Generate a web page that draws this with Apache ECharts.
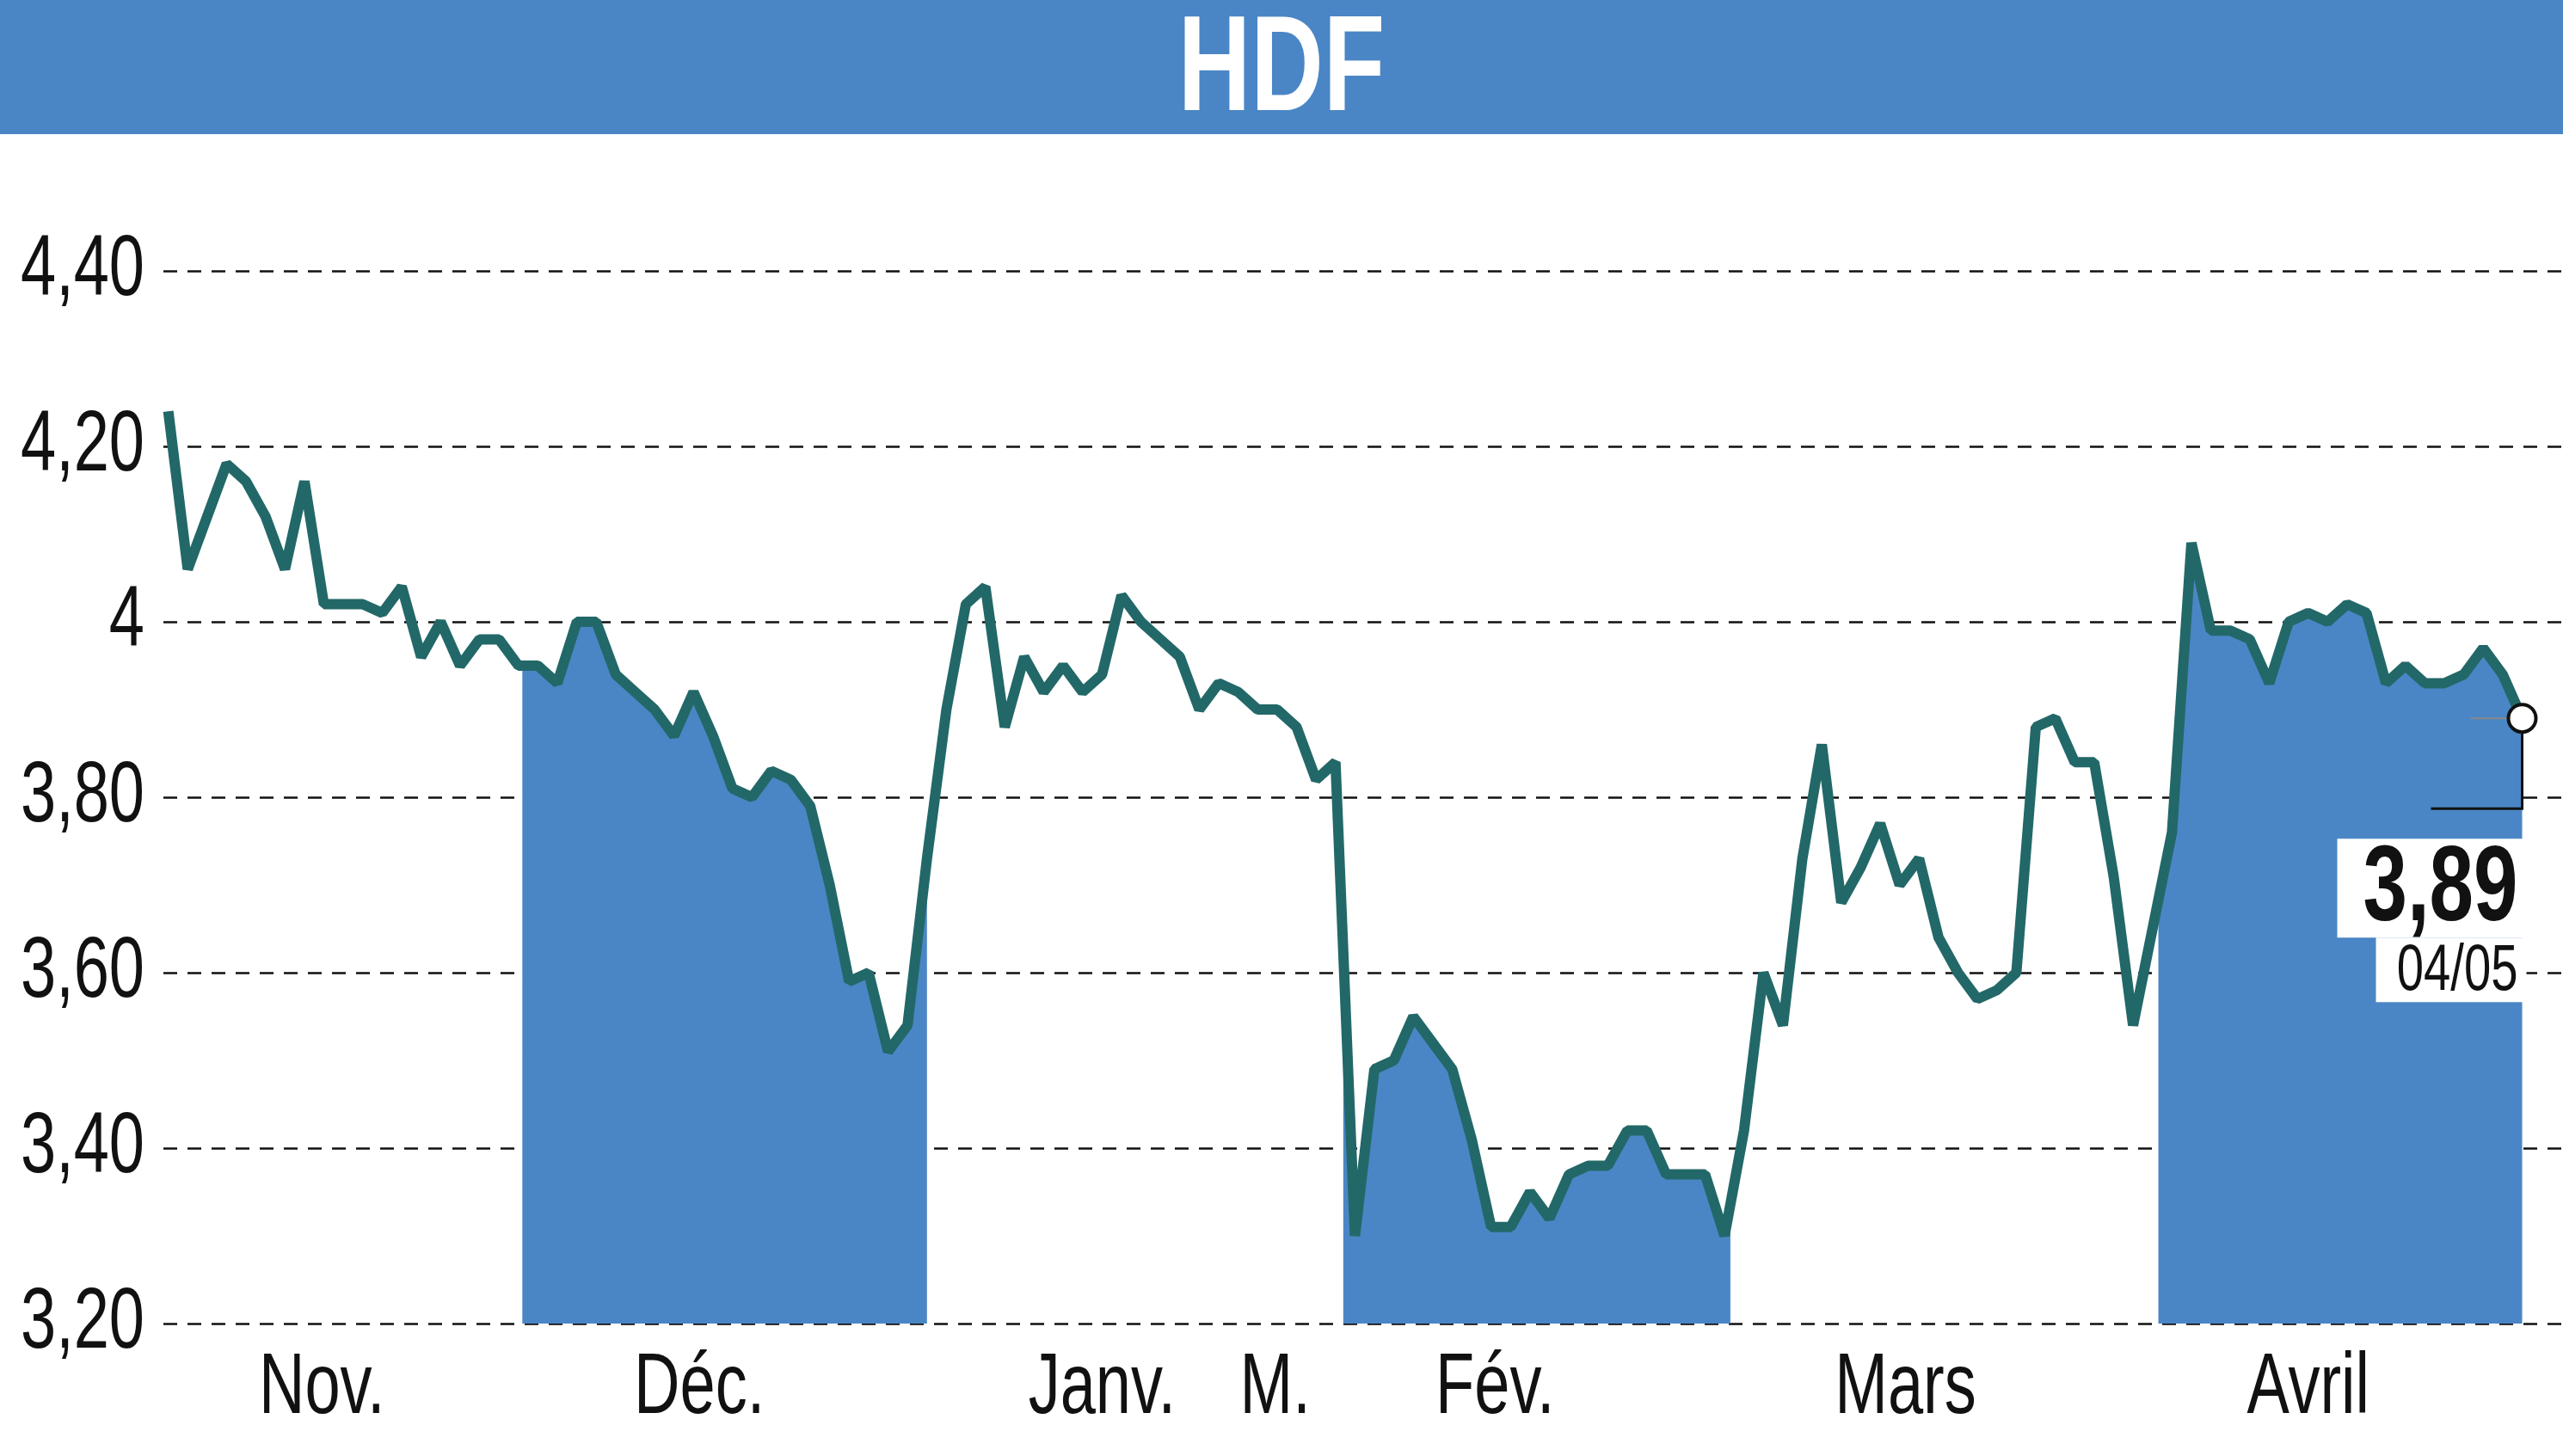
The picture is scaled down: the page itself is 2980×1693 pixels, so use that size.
<!DOCTYPE html>
<html><head><meta charset="utf-8">
<script src="https://cdn.jsdelivr.net/npm/echarts@6/dist/echarts.min.js"></script>
<style>html,body{margin:0;padding:0;background:#fff}#c{width:2980px;height:1693px}</style>
</head><body><div id="c"></div>
<script>
const title = 'HDF';
const prices = [4.24,4.06,4.12,4.18,4.16,4.12,4.06,4.16,4.02,4.02,4.02,4.01,4.04,3.96,4.00,3.95,3.98,3.98,3.95,3.95,3.93,4.00,4.00,3.94,3.92,3.90,3.87,3.92,3.87,3.81,3.80,3.83,3.82,3.79,3.70,3.59,3.60,3.51,3.54,3.73,3.90,4.02,4.04,3.88,3.96,3.92,3.95,3.92,3.94,4.03,4.00,3.98,3.96,3.90,3.93,3.92,3.90,3.90,3.88,3.82,3.84,3.30,3.49,3.50,3.55,3.52,3.49,3.41,3.31,3.31,3.35,3.32,3.37,3.38,3.38,3.42,3.42,3.37,3.37,3.37,3.30,3.42,3.60,3.54,3.73,3.86,3.68,3.72,3.77,3.70,3.73,3.64,3.60,3.57,3.58,3.60,3.88,3.89,3.84,3.84,3.71,3.54,3.65,3.76,4.09,3.99,3.99,3.98,3.93,4.00,4.01,4.00,4.02,4.01,3.93,3.95,3.93,3.93,3.94,3.97,3.94,3.89];
const monthLabels = ['Nov.','Déc.','Janv.','M.','Fév.','Mars','Avril'];
const monthPos = [7.9,27.3,48.0,56.9,68.2,89.3,110.0];
const bands = [[18.2,39.0],[60.4,80.3],[102.3,122.2]];
const lastLabel = '3,89', lastDate = '04/05';

const N = prices.length;
function valAt(x){const i=Math.floor(x), f=x-i; if(i>=N-1) return prices[N-1]; return prices[i]+(prices[i+1]-prices[i])*f;}
const bandSeries = bands.map(([a,b])=>{
  b=Math.min(b,N-1);
  const d=[[a,valAt(a)]];
  for(let i=Math.ceil(a);i<=b;i++) d.push([i,prices[i]]);
  if(b!==Math.floor(b)) d.push([b,valAt(b)]);
  return {type:'line',data:d,symbol:'none',lineStyle:{width:0},areaStyle:{color:'#4a86c5',opacity:1,origin:'start'},silent:true,z:1};
});
const fam = "'Liberation Sans',sans-serif";
const chart = echarts.init(document.getElementById('c'));
chart.setOption({
  animation:false,
  grid:{left:190,right:0,top:315,bottom:154},
  xAxis:{type:'value',min:-0.25,max:N-1+2.1,axisLine:{show:false},axisTick:{show:false},axisLabel:{show:false},splitLine:{show:false}},
  yAxis:{type:'value',min:3.2,max:4.4,interval:0.2,axisLine:{show:false},axisTick:{show:false},
    axisLabel:{show:false},
    splitLine:{lineStyle:{color:'#111',width:2.5,type:[16,12]}}},
  series:[...bandSeries,
    {type:'line',data:prices.map((v,i)=>[i,v]),symbol:'none',lineStyle:{color:'#236868',width:12},z:3}]
});
const yTicks = [3.2,3.4,3.6,3.8,4.0,4.2,4.4];
const SX = 0.74;
function txt(x,y,s,font,align,z){return {type:'text',x:x,y:y,scaleX:SX,z:z||5,style:{text:s,fill:'#111',font:font,textAlign:align,textVerticalAlign:'middle'}};}
const g=[];
g.push({type:'rect',shape:{x:0,y:0,width:2980,height:156},style:{fill:'#4a86c5'}});
const t=txt(1490,84,title,"bold 158px "+fam,'center');t.style.fill='#fff';g.push(t);
yTicks.forEach(v=>{const p=chart.convertToPixel({gridIndex:0},[0,v]);
  g.push(txt(168,p[1],Math.abs(v-4)<1e-6?'4':v.toFixed(2).replace('.',','),"100px "+fam,'right'));});
monthLabels.forEach((m,i)=>{const p=chart.convertToPixel({gridIndex:0},[monthPos[i],3.2]);
  g.push(txt(p[0],1615,m,"100px "+fam,'center'));});
const lp=chart.convertToPixel({gridIndex:0},[N-1,prices[N-1]]);
g.push({type:'polyline',shape:{points:[[lp[0],lp[1]],[lp[0],lp[1]+105],[lp[0]-106,lp[1]+105]]},style:{stroke:'#111',lineWidth:3,fill:null},z:10});
g.push({type:'line',shape:{x1:lp[0]-60,y1:lp[1],x2:lp[0],y2:lp[1]},style:{stroke:'#888',lineWidth:2},z:10});
g.push({type:'rect',shape:{x:lp[0]-215,y:lp[1]+140,width:220,height:115},style:{fill:'#fff'},z:10});
g.push(txt(lp[0]-5,lp[1]+200,lastLabel,"bold 125px "+fam,'right',11));
g.push({type:'rect',shape:{x:lp[0]-170,y:lp[1]+255,width:175,height:75},style:{fill:'#fff'},z:10});
g.push(txt(lp[0]-5,lp[1]+295,lastDate,"76px "+fam,'right',11));
g.push({type:'circle',shape:{cx:lp[0],cy:lp[1],r:16},style:{fill:'#fff',stroke:'#111',lineWidth:4},z:12});
chart.setOption({graphic:g});
</script></body></html>
